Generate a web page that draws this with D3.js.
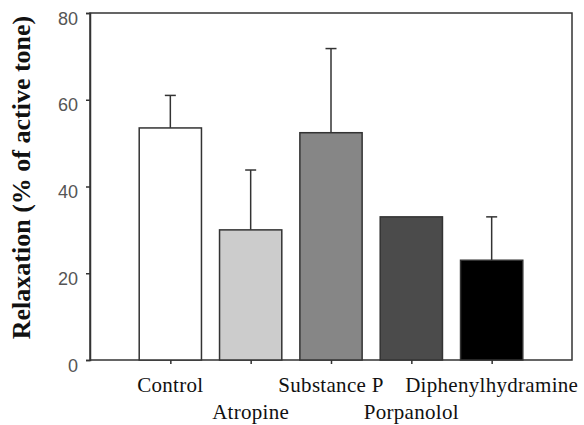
<!DOCTYPE html>
<html>
<head>
<meta charset="utf-8">
<script src="https://cdn.jsdelivr.net/npm/d3@7"></script>
<style>
  html, body { margin: 0; padding: 0; background: #fff; }
  svg { display: block; }
</style>
</head>
<body>
<svg id="chart" width="584" height="425"></svg>
<script>
// Relaxation responses by treatment
const categories = ["Control", "Atropine", "Substance P", "Porpanolol", "Diphenylhydramine"];
const means = [53.5, 30, 52.4, 33, 23];
const errorTops = [61, 43.8, 71.8, null, 33];
const fills = ["#ffffff", "#cccccc", "#868686", "#4b4b4b", "#000000"];
const yTicks = [0, 20, 40, 60, 80];

const svg = d3.select("#chart");
const plotLeft = 90, plotRight = 572, plotTop = 13, plotBottom = 360;

const x = d3.scalePoint().domain(categories).range([plotLeft, plotRight]).padding(1);
const y = d3.scaleLinear().domain([0, 80]).range([plotBottom, plotTop]);
const barW = x.step() * 0.775;

// plot frame
svg.append("rect")
  .attr("x", plotLeft).attr("y", plotTop)
  .attr("width", plotRight - plotLeft).attr("height", plotBottom - plotTop)
  .attr("fill", "none").attr("stroke", "#333").attr("stroke-width", 1.5);

// y axis
const yAxis = svg.append("g")
  .attr("transform", `translate(${plotLeft},0)`)
  .call(d3.axisLeft(y).tickValues(yTicks).tickSize(4).tickPadding(8));
yAxis.select(".domain").attr("stroke", "#333").attr("stroke-width", 1.5);
yAxis.selectAll(".tick line").attr("stroke", "#333").attr("stroke-width", 1.5);
yAxis.selectAll(".tick text")
  .attr("font-family", "Liberation Sans, Arial, sans-serif")
  .attr("font-size", 18).attr("fill", "#555")
  .attr("dy", "0.62em");

// x axis ticks
const xAxis = svg.append("g")
  .attr("transform", `translate(0,${plotBottom})`)
  .call(d3.axisBottom(x).tickSize(4).tickFormat(""));
xAxis.select(".domain").remove();
xAxis.selectAll(".tick line").attr("stroke", "#333").attr("stroke-width", 1.5);

// category labels, staggered on two rows
svg.append("g").selectAll("text")
  .data(categories)
  .join("text")
  .attr("x", d => x(d))
  .attr("y", (d, i) => i % 2 === 0 ? 392 : 419)
  .attr("text-anchor", "middle")
  .attr("font-family", "Liberation Serif, Times New Roman, serif")
  .attr("font-size", 21)
  .attr("letter-spacing", 0.3)
  .attr("fill", "#111")
  .text(d => d);

// error bars (upper only)
const errs = svg.append("g");
categories.forEach((c, i) => {
  if (errorTops[i] == null) return;
  errs.append("line")
    .attr("x1", x(c)).attr("x2", x(c))
    .attr("y1", y(means[i])).attr("y2", y(errorTops[i]))
    .attr("stroke", "#333").attr("stroke-width", 1.5);
  errs.append("line")
    .attr("x1", x(c) - 5.5).attr("x2", x(c) + 5.5)
    .attr("y1", y(errorTops[i])).attr("y2", y(errorTops[i]))
    .attr("stroke", "#333").attr("stroke-width", 1.5);
});

// bars
svg.append("g").selectAll("rect")
  .data(categories)
  .join("rect")
  .attr("x", d => x(d) - barW / 2)
  .attr("y", (d, i) => y(means[i]))
  .attr("width", barW)
  .attr("height", (d, i) => y(0) - y(means[i]))
  .attr("fill", (d, i) => fills[i])
  .attr("stroke", "#333").attr("stroke-width", 1.5);

// y axis title
svg.append("text")
  .attr("transform", `translate(30,${(plotTop + 342) / 2}) rotate(-90)`)
  .attr("text-anchor", "middle")
  .attr("font-family", "Liberation Serif, Times New Roman, serif")
  .attr("font-weight", "bold")
  .attr("font-size", 26)
  .attr("fill", "#111")
  .text("Relaxation (% of active tone)");
</script>
</body>
</html>
